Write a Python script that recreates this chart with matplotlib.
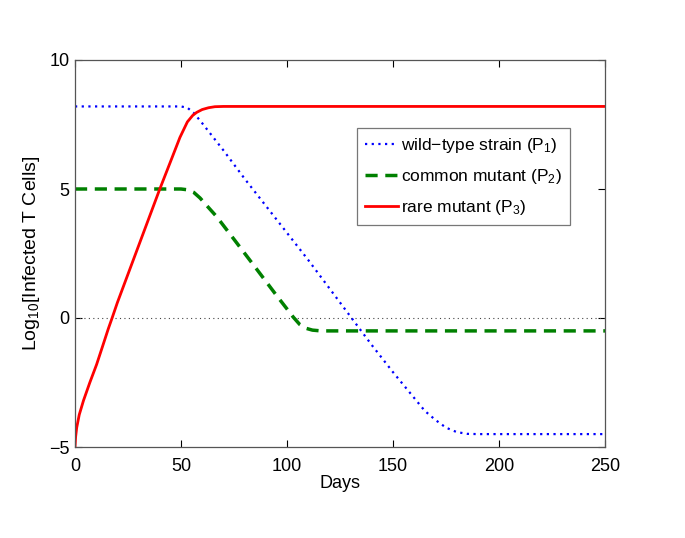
import matplotlib
matplotlib.use("Agg")
import matplotlib.pyplot as plt

plt.rcParams['font.family'] = ['Liberation Sans', 'DejaVu Sans']
plt.rcParams['mathtext.default'] = 'regular'

# Data (days, log10 infected T cells)
wild_days = [0, 50, 53, 56, 60, 70, 80, 90, 100, 110, 120, 130, 140, 150, 160, 165, 170, 175, 180, 185, 190, 250]
wild_vals = [8.2, 8.2, 8.15, 7.95, 7.55, 6.5, 5.4, 4.35, 3.3, 2.25, 1.15, 0.05, -1.05, -2.1, -3.1, -3.6, -3.95, -4.25, -4.42, -4.49, -4.5, -4.5]

common_days = [0, 50, 53, 56, 59, 62, 66.8, 75, 86, 95, 100, 103, 106, 109, 112, 116, 250]
common_vals = [5.0, 5.0, 4.97, 4.87, 4.65, 4.37, 3.93, 3.05, 1.86, 0.88, 0.35, 0.03, -0.25, -0.4, -0.47, -0.5, -0.5]

rare_days = [0, 0.3, 0.8, 2, 4, 7, 10.2, 13, 15.7, 17.5, 20, 25, 30, 35, 40, 45, 49.5, 53, 55.5, 57.4, 60, 63, 66, 70, 250]
rare_vals = [-5.0, -4.6, -4.25, -3.75, -3.2, -2.5, -1.8, -1.1, -0.42, 0.0, 0.6, 1.7, 2.8, 3.9, 5.0, 6.05, 7.0, 7.6, 7.85, 7.97, 8.08, 8.15, 8.19, 8.2, 8.2]

zero_days = [0, 250]
zero_vals = [0, 0]

labels = ['wild\u2212type strain (P$_1$)', 'common mutant (P$_2$)', 'rare mutant (P$_3$)']
xticks = [0, 50, 100, 150, 200, 250]
yticks = [-5, 0, 5, 10]

fig = plt.figure(figsize=(6.85, 5.38), dpi=100)
ax = fig.add_axes([75/685, 1 - 447/538, 530/685, 387/538])

ax.plot(zero_days, zero_vals, linestyle=(0, (1, 3)), color='#444444', linewidth=0.8)
l1, = ax.plot(wild_days, wild_vals, linestyle=(0, (1, 2)), color='#0000ff', linewidth=1.6, label=labels[0])
l2, = ax.plot(common_days, common_vals, linestyle=(0, (3.5, 2.2)), color='#008000', linewidth=2.5, label=labels[1])
l3, = ax.plot(rare_days, rare_vals, linestyle='-', color='#ff0000', linewidth=2.0, label=labels[2])

ax.set_xlim(0, 250)
ax.set_ylim(-5, 10)
ax.set_xticks(xticks)
ax.set_yticks(yticks)
ax.tick_params(direction='in', top=True, right=True, length=5, labelsize=13, colors='black', width=0.8)
ax.tick_params(axis='x', pad=8)
ax.tick_params(axis='y', pad=4)
for s in ax.spines.values():
    s.set_color('#555555')
    s.set_linewidth(0.9)

ax.set_xlabel('Days', fontsize=13, labelpad=0)
ax.set_ylabel('Log$_{10}$[Infected T Cells]', fontsize=14, labelpad=5)

leg = ax.legend(handles=[l1, l2, l3], loc='upper right', bbox_to_anchor=(0.934, 0.824),
                fontsize=12.5, frameon=True, fancybox=False, edgecolor='#555555',
                handlelength=1.9, handletextpad=0.2, labelspacing=0.7, borderpad=0.45,
                borderaxespad=0)
leg.get_frame().set_linewidth(0.9)

fig.savefig('out.png', dpi=100)
